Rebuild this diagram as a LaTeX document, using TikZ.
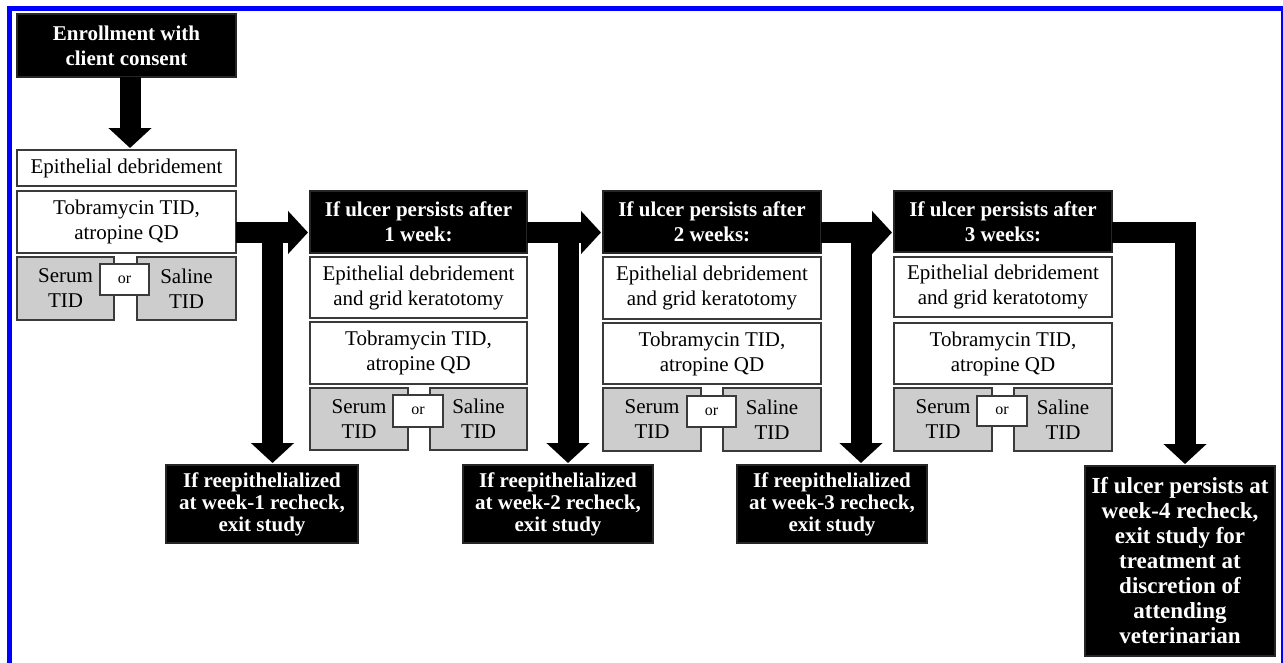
\documentclass[tikz,border=0pt]{standalone}
\usepackage{fontspec}
\setmainfont{Liberation Serif}
\usetikzlibrary{arrows.meta}
\definecolor{boxline}{HTML}{3A3A3A}
\definecolor{grayfill}{HTML}{CDCDCD}
\newcommand\rbox[7]{\node[#6, minimum width={#4-#2}, minimum height={#5-#3}] (#1) at ({(#2+#4)/2},{(#3+#5)/2}) {#7};}
\tikzset{
  base/.style={inner sep=0pt, outer sep=0pt, align=center, line width=1.4pt},
  whitebox/.style={base, draw=boxline, fill=white, font=\fontsize{21}{25}\selectfont},
  graybox/.style={base, draw=boxline, fill=grayfill, font=\fontsize{21}{25}\selectfont},
  orbox/.style={base, draw=boxline, fill=white, font=\fontsize{16}{18}\selectfont},
  blackbox/.style={base, draw=black!85, fill=black, text=white, font=\fontsize{21}{25}\selectfont\bfseries},
  exitbox/.style={blackbox, font=\fontsize{21}{22}\selectfont\bfseries},
  finalbox/.style={blackbox, font=\fontsize{23}{25}\selectfont\bfseries},
  bigarrow/.style={draw=black, line width=21pt, -{Triangle[width=42pt,length=20pt]}, shorten >=2pt}
}
\begin{document}
\begin{tikzpicture}[x=1pt,y=-1pt]
\useasboundingbox (0,0) rectangle (1283,662);
\clip (0,0) rectangle (1283,662);
\fill[white] (0,0) rectangle (1283,662);
\draw[blue, line width=5pt] (9.5,8.5) rectangle (1283.5,700);

% column 1
\rbox{enroll}{17}{14}{236}{77}{blackbox}{Enrollment with\\client consent}
\rbox{epi1}{17}{150}{236}{186}{whitebox}{Epithelial debridement}
\rbox{tob1}{17}{191}{236}{253}{whitebox}{Tobramycin TID,\\atropine QD}
\rbox{ser1}{17}{257}{114}{320}{graybox}{Serum\\TID}
\rbox{sal1}{137}{257}{236}{320}{graybox}{Saline\\TID}
\rbox{or1}{100}{264}{149}{295}{orbox}{or}

% column 2
\rbox{head1}{310}{191}{527}{253}{blackbox}{If ulcer persists after\\1 week:}
\rbox{epi2}{310}{257}{527}{318}{whitebox}{Epithelial debridement\\and grid keratotomy}
\rbox{tob2}{310}{322}{527}{384}{whitebox}{Tobramycin TID,\\atropine QD}
\rbox{ser2}{310}{388}{408}{450}{graybox}{Serum\\TID}
\rbox{sal2}{430}{388}{527}{450}{graybox}{Saline\\TID}
\rbox{or2}{393}{395}{443}{427}{orbox}{or}

% column 3
\rbox{head2}{603}{191}{821}{253}{blackbox}{If ulcer persists after\\2 weeks:}
\rbox{epi3}{603}{257}{821}{319}{whitebox}{Epithelial debridement\\and grid keratotomy}
\rbox{tob3}{603}{323}{821}{384}{whitebox}{Tobramycin TID,\\atropine QD}
\rbox{ser3}{603}{388}{701}{451}{graybox}{Serum\\TID}
\rbox{sal3}{723}{388}{821}{451}{graybox}{Saline\\TID}
\rbox{or3}{687}{396}{736}{427}{orbox}{or}

% column 4
\rbox{head3}{894}{191}{1112}{252}{blackbox}{If ulcer persists after\\3 weeks:}
\rbox{epi4}{894}{257}{1112}{317}{whitebox}{Epithelial debridement\\and grid keratotomy}
\rbox{tob4}{894}{323}{1112}{384}{whitebox}{Tobramycin TID,\\atropine QD}
\rbox{ser4}{894}{388}{992}{451}{graybox}{Serum\\TID}
\rbox{sal4}{1014}{388}{1112}{451}{graybox}{Saline\\TID}
\rbox{or4}{977}{396}{1027}{426}{orbox}{or}

% exits
\rbox{ex1}{166}{465}{358}{543}{exitbox}{If reepithelialized\\at week-1 recheck,\\exit study}
\rbox{ex2}{463}{465}{653}{543}{exitbox}{If reepithelialized\\at week-2 recheck,\\exit study}
\rbox{ex3}{737}{465}{927}{543}{exitbox}{If reepithelialized\\at week-3 recheck,\\exit study}
\rbox{final}{1085}{466}{1275}{656}{finalbox}{If ulcer persists at\\week-4 recheck,\\exit study for\\treatment at\\discretion of\\attending\\veterinarian}

% arrows
\coordinate (r) at (0,232.5);
\coordinate (ea) at (130,77);
\draw[bigarrow] (ea) -- (ea |- epi1.north);
\draw[bigarrow] (tob1.east |- r) -- (head1.west |- r);
\draw[bigarrow] (head1.east |- r) -- (head2.west |- r);
\draw[bigarrow] (head2.east |- r) -- (head3.west |- r);
\coordinate (b1) at (272.5,222);
\coordinate (b2) at (568,222);
\coordinate (b3) at (861,222);
\draw[bigarrow] (b1) -- (b1 |- ex1.north);
\draw[bigarrow] (b2) -- (b2 |- ex2.north);
\draw[bigarrow] (b3) -- (b3 |- ex3.north);
\coordinate (fx) at (1185,0);
\draw[bigarrow] (head3.east |- r) -| (final.north -| fx);
\end{tikzpicture}
\end{document}
